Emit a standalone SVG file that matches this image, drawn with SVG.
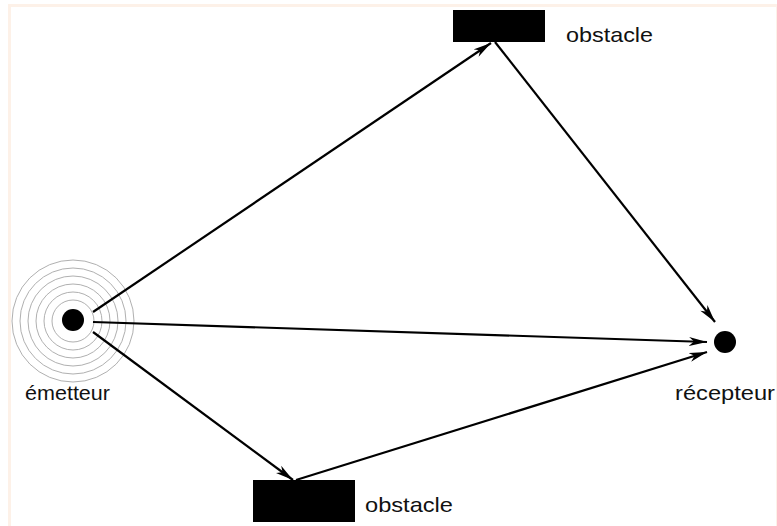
<svg xmlns="http://www.w3.org/2000/svg" width="777" height="526" viewBox="0 0 777 526">
<defs>
<style>
.lbl{font-family:"Liberation Sans",Arial,sans-serif;font-size:21px;fill:#111}
.ring{fill:none;stroke:#b0b0b0;stroke-width:1}
.edge{fill:none;stroke:#000;stroke-width:2.2;marker-end:url(#arr)}
</style>
<marker id="arr" markerUnits="userSpaceOnUse" markerWidth="20" markerHeight="10" refX="18" refY="5" orient="auto">
<path d="M0,0.5 L18,5 L0,9.5 L5,5 Z" fill="#000"/>
</marker>
</defs>
<rect x="0" y="0" width="777" height="526" fill="#fff"/>
<rect x="9.5" y="5.5" width="768" height="522" fill="none" stroke="#fdf1e8" stroke-width="3"/>
<g id="emetteur">
<circle class="ring" cx="73" cy="321" r="21"/>
<circle class="ring" cx="73" cy="321" r="29"/>
<circle class="ring" cx="73" cy="321" r="37"/>
<circle class="ring" cx="73" cy="321" r="45"/>
<circle class="ring" cx="73" cy="321" r="53"/>
<circle class="ring" cx="73" cy="321" r="61"/>
<circle cx="73" cy="320" r="11" fill="#000"/>
<text class="lbl" x="25" y="400" textLength="85" lengthAdjust="spacingAndGlyphs">émetteur</text>
</g>
<g id="obstacle-haut">
<rect x="453" y="10" width="92" height="32" fill="#000"/>
<text class="lbl" x="566" y="42" textLength="87" lengthAdjust="spacingAndGlyphs">obstacle</text>
</g>
<g id="obstacle-bas">
<rect x="253" y="480" width="102" height="42" fill="#000"/>
<text class="lbl" x="365" y="512" textLength="88" lengthAdjust="spacingAndGlyphs">obstacle</text>
</g>
<g id="recepteur">
<circle cx="725" cy="342" r="11" fill="#000"/>
<text class="lbl" x="675" y="400" textLength="100" lengthAdjust="spacingAndGlyphs">récepteur</text>
</g>
<g id="connecteurs">
<line class="edge" x1="93" y1="312" x2="491" y2="43"/>
<line class="edge" x1="495" y1="42" x2="715" y2="322"/>
<line class="edge" x1="93" y1="322" x2="707" y2="342"/>
<line class="edge" x1="93" y1="332" x2="293" y2="480"/>
<line class="edge" x1="296" y1="480" x2="707" y2="352"/>
</g>
</svg>
